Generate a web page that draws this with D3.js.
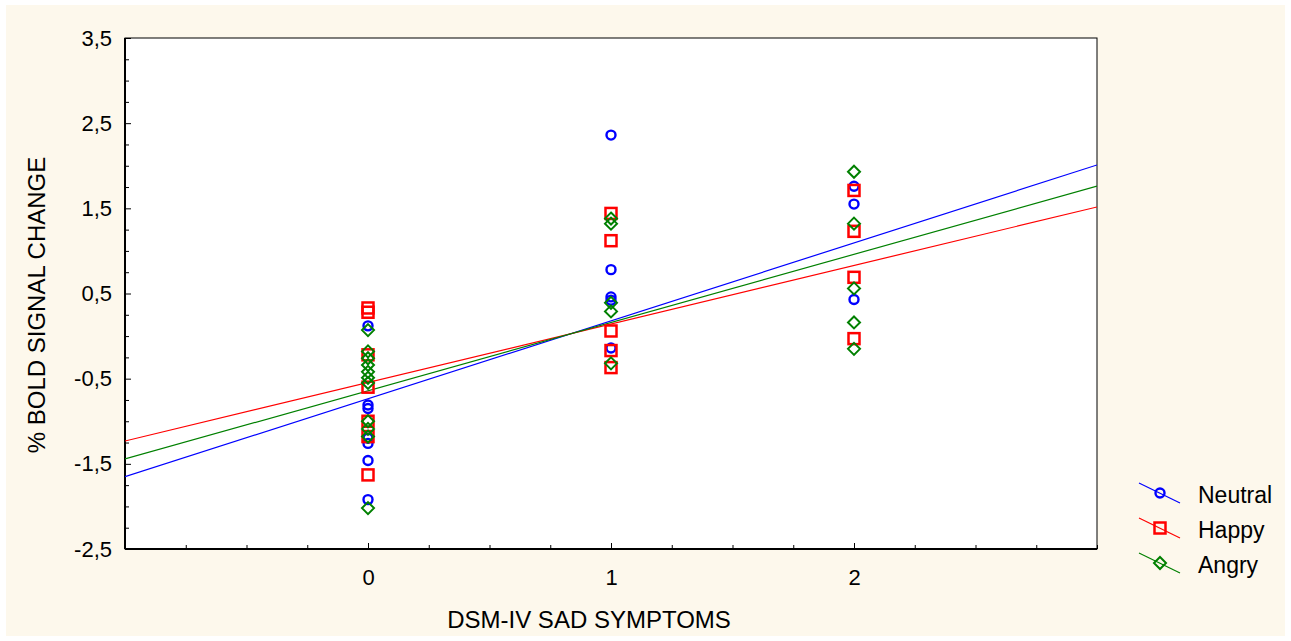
<!DOCTYPE html>
<html><head><meta charset="utf-8">
<script src="https://cdnjs.cloudflare.com/ajax/libs/d3/7.8.5/d3.min.js"></script>
<style>
html,body{margin:0;padding:0;background:#ffffff;}
svg{display:block;font-family:Arial,"Liberation Sans",sans-serif;}
</style></head>
<body>
<svg id="chart" width="1291" height="641"></svg>
<script>
// ---- data ----
const seriesNames = ["Neutral", "Happy", "Angry"];
const neutralX = [0,0,0,0,0,0,0, 1,1,1,1,1, 2,2,2];
const neutralY = [0.12,-0.81,-0.85,-1.20,-1.26,-1.46,-1.92, 2.36,0.78,0.46,0.42,-0.14, 1.76,1.55,0.43];
const happyX = [0,0,0,0,0,0,0, 1,1,1,1,1, 2,2,2,2];
const happyY = [0.33,0.28,-0.22,-0.60,-1.00,-1.18,-1.63, 1.44,1.12,0.06,-0.17,-0.37, 1.71,1.23,0.69,-0.03];
const angryX = [0,0,0,0,0,0,0,0,0,0,0, 1,1,1,1,1, 2,2,2,2,2];
const angryY = [0.07,-0.18,-0.26,-0.34,-0.42,-0.49,-0.55,-1.00,-1.09,-1.18,-2.02, 1.38,1.32,0.39,0.29,-0.32, 1.93,1.32,0.56,0.16,-0.15];
// fitted regression lines (intercept, slope)
const intercepts = [-0.736, -0.545, -0.642];
const slopes = [0.915, 0.687, 0.801];
const yTickLabels = ["-2,5","-1,5","-0,5","0,5","1,5","2,5","3,5"];
const yTickValues = [-2.5,-1.5,-0.5,0.5,1.5,2.5,3.5];
const xTickValues = [0,1,2];
const xTitle = "DSM-IV SAD SYMPTOMS";
const yTitle = "% BOLD SIGNAL CHANGE";

// ---- layout ----
const colors = ["#0000ff", "#ff0000", "#008000"];
const svg = d3.select("#chart");
const L = 125, R = 1097, T = 38, B = 549;
const x = d3.scaleLinear().domain([-1, 3]).range([L, R]);
const y = d3.scaleLinear().domain([-2.5, 3.5]).range([B, T]);

svg.append("rect").attr("x", 6).attr("y", 5).attr("width", 1279).attr("height", 631).attr("fill", "#fdf8ec");
svg.append("rect").attr("x", L).attr("y", T).attr("width", R - L).attr("height", B - T).attr("fill", "#ffffff");

const minorY = d3.range(-2.5, 3.5001, 0.25).filter(v => Math.abs((v + 2.5) % 1) > 0.01);
const minorX = d3.range(-1, 3.0001, 0.25).filter(v => Math.abs(v - Math.round(v)) > 0.01 || v === -1 || v === 3);

function styleAxis(g) {
  g.select(".domain").remove();
  g.selectAll(".tick line").attr("stroke", "#000").attr("stroke-width", 1);
  g.selectAll("text").attr("fill", "#000").attr("font-size", 22).attr("font-family", "Arial, 'Liberation Sans', sans-serif");
}
svg.append("g").attr("transform", `translate(${L},0)`)
  .call(d3.axisLeft(y).tickValues(minorY).tickSize(-4).tickFormat(""))
  .call(styleAxis);
svg.append("g").attr("transform", `translate(${L},0)`)
  .call(d3.axisLeft(y).tickValues(yTickValues).tickSize(-6).tickPadding(13)
    .tickFormat((d, i) => yTickLabels[i]))
  .call(styleAxis);
svg.append("g").attr("transform", `translate(0,${B})`)
  .call(d3.axisBottom(x).tickValues(minorX).tickSize(-4).tickFormat(""))
  .call(styleAxis);
svg.append("g").attr("transform", `translate(0,${B})`)
  .call(d3.axisBottom(x).tickValues(xTickValues).tickSize(-6).tickPadding(20).tickFormat(d3.format("d")))
  .call(styleAxis);

// plot frame
svg.append("rect").attr("x", L).attr("y", T).attr("width", R - L).attr("height", B - T)
  .attr("fill", "none").attr("stroke", "#000").attr("stroke-width", 1);
svg.append("line").attr("x1", L).attr("x2", L).attr("y1", T).attr("y2", B).attr("stroke", "#000").attr("stroke-width", 2);
svg.append("line").attr("x1", L).attr("x2", R).attr("y1", B).attr("y2", B).attr("stroke", "#000").attr("stroke-width", 2);

// regression lines
svg.append("clipPath").attr("id", "clip").append("rect")
  .attr("x", L).attr("y", T).attr("width", R - L).attr("height", B - T);
const lineG = svg.append("g").attr("clip-path", "url(#clip)");
seriesNames.forEach((s, i) => {
  const xs = x.domain();
  lineG.append("line")
    .attr("x1", x(xs[0])).attr("y1", y(intercepts[i] + slopes[i] * xs[0]))
    .attr("x2", x(xs[1])).attr("y2", y(intercepts[i] + slopes[i] * xs[1]))
    .attr("stroke", colors[i]).attr("stroke-width", 1.2);
});

// markers
function marker(g, type, cx, cy, col) {
  if (type === 0) {
    g.append("circle").attr("cx", cx).attr("cy", cy).attr("r", 4.5)
      .attr("fill", "none").attr("stroke", col).attr("stroke-width", 2.4);
  } else if (type === 1) {
    g.append("rect").attr("x", cx - 5.5).attr("y", cy - 5.5).attr("width", 11).attr("height", 11)
      .attr("fill", "none").attr("stroke", col).attr("stroke-width", 2.5);
  } else {
    g.append("path").attr("d", `M${cx},${cy - 6}L${cx + 6},${cy}L${cx},${cy + 6}L${cx - 6},${cy}Z`)
      .attr("fill", "none").attr("stroke", col).attr("stroke-width", 2);
  }
}
const allX = [neutralX, happyX, angryX];
const allY = [neutralY, happyY, angryY];
const ptG = svg.append("g");
seriesNames.forEach((s, i) => {
  allX[i].forEach((xv, j) => marker(ptG, i, x(xv), y(allY[i][j]), colors[i]));
});

// titles
svg.append("text").attr("x", 589).attr("y", 628).attr("text-anchor", "middle")
  .attr("font-size", 24).attr("fill", "#000").text(xTitle);
svg.append("text").attr("transform", `translate(45,${305}) rotate(-90)`).attr("text-anchor", "middle")
  .attr("font-size", 24).attr("fill", "#000").text(yTitle);

// legend
const lg = svg.append("g");
seriesNames.forEach((s, i) => {
  const cy = 493 + i * 35;
  lg.append("line").attr("x1", 1139).attr("y1", cy - 10).attr("x2", 1180).attr("y2", cy + 10)
    .attr("stroke", colors[i]).attr("stroke-width", 1.2);
  marker(lg, i, 1160, cy, colors[i]);
  lg.append("text").attr("x", 1198).attr("y", cy + 10).attr("font-size", 23).attr("fill", "#000").text(s);
});
</script>
</body></html>
